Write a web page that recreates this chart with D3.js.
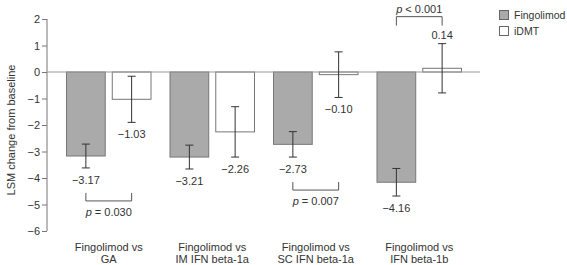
<!DOCTYPE html>
<html><head><meta charset="utf-8">
<script src="https://cdn.jsdelivr.net/npm/d3@7/dist/d3.min.js"></script>
<style>
html,body{margin:0;padding:0;background:#fff;}
svg{display:block;font-family:"Liberation Sans",Arial,sans-serif;}
</style></head>
<body><svg id="c" width="567" height="265"></svg>
<script>
const categories = [["Fingolimod vs","GA"],["Fingolimod vs","IM IFN beta-1a"],["Fingolimod vs","SC IFN beta-1a"],["Fingolimod vs","IFN beta-1b"]];
const seriesNames = ["Fingolimod","iDMT"];
const fingolimod = [-3.17,-3.21,-2.73,-4.16];
const fingolimodErr = [0.45,0.45,0.48,0.52];
const idmt = [-1.03,-2.26,-0.10,0.14];
const idmtErr = [0.87,0.95,0.86,0.93];
const pValues = ["p = 0.030",null,"p = 0.007","p < 0.001"];
const yTicks = [2,1,0,-1,-2,-3,-4,-5,-6];

const svg = d3.select("#c");
const txt = "#333", axisCol = "#777", fs = "11px";
const fmt = v => (v<0?"\u2212":"") + Math.abs(v).toFixed(2);

const y = d3.scaleLinear().domain([-6,2]).range([231,19]);
const keys = categories.map((c,i)=>i);
const x0 = d3.scaleBand().domain(keys).range([57,471]).padding(0);
const x1 = d3.scaleBand().domain(seriesNames).range([9,94.5]).paddingInner(0.132).paddingOuter(0);
const fills = {Fingolimod:"#aaaaaa", iDMT:"#ffffff"};

// y axis
const yAxis = d3.axisLeft(y).tickValues(yTicks).tickSize(5).tickPadding(2)
  .tickFormat(d => d<0 ? "\u2212"+Math.abs(d) : String(d));
const ga = svg.append("g").attr("transform","translate(47,0)").call(yAxis);
ga.selectAll("path,line").attr("stroke",axisCol);
ga.select(".domain").attr("d","M0,"+y(2)+"V"+y(-6));
ga.selectAll("text").attr("fill",txt).style("font-size",fs).style("font-family","Liberation Sans, Arial, sans-serif");

svg.append("text").attr("transform","translate(15,130) rotate(-90)")
  .attr("text-anchor","middle").attr("fill",txt).style("font-size","11px")
  .text("LSM change from baseline");

// data rows
const rows = [];
keys.forEach(i=>{
  rows.push({g:i,s:"Fingolimod",v:fingolimod[i],e:fingolimodErr[i]});
  rows.push({g:i,s:"iDMT",v:idmt[i],e:idmtErr[i]});
});

// bars
svg.append("g").selectAll("rect").data(rows).join("rect")
  .attr("x",d=>x0(d.g)+x1(d.s)+0.5)
  .attr("width",x1.bandwidth()-1)
  .attr("y",d=>Math.min(y(d.v),y(0)))
  .attr("height",d=>Math.abs(y(d.v)-y(0)))
  .attr("fill",d=>fills[d.s]).attr("stroke","#777").attr("stroke-width",1);

// zero line
svg.append("line").attr("x1",47).attr("x2",480).attr("y1",y(0)).attr("y2",y(0))
  .attr("stroke","#999").attr("stroke-width",1.2);

// error bars
const eg = svg.append("g").attr("stroke","#333").attr("stroke-width",1);
rows.forEach(d=>{
  const cx = x0(d.g)+x1(d.s)+x1.bandwidth()/2;
  const t = y(d.v+d.e), b = y(d.v-d.e);
  eg.append("line").attr("x1",cx).attr("x2",cx).attr("y1",t).attr("y2",b);
  eg.append("line").attr("x1",cx-4).attr("x2",cx+4).attr("y1",t).attr("y2",t);
  eg.append("line").attr("x1",cx-4).attr("x2",cx+4).attr("y1",b).attr("y2",b);
  svg.append("text").attr("x",cx).attr("text-anchor","middle").attr("fill",txt)
    .style("font-size",fs)
    .attr("y", d.v<0 ? b+16 : t-5)
    .text(fmt(d.v));
});

// p-value brackets
const bg = svg.append("g").attr("stroke","#555").attr("stroke-width",1).attr("fill","none");
keys.forEach(i=>{
  if(!pValues[i]) return;
  const xa = x0(i)+x1("Fingolimod")+x1.bandwidth()/2;
  const xb = x0(i)+x1("iDMT")+x1.bandwidth()/2;
  const rs = rows.filter(r=>r.g===i);
  const parts = pValues[i].split(/^p/);
  let ty;
  if (idmt[i] > 0) {
    const top = d3.min(rs, r=>y(r.v+r.e));
    bg.append("path").attr("d",`M${xa},${top-18}V${top-27}H${xb}V${top-18}`);
    ty = top-31;
  } else {
    const bot = d3.max(rs, r=>y(r.v-r.e));
    bg.append("path").attr("d",`M${xa},${bot+25}V${bot+33}H${xb}V${bot+25}`);
    ty = bot+48;
  }
  const t = svg.append("text").attr("x",(xa+xb)/2).attr("y",ty).attr("text-anchor","middle")
    .attr("fill",txt).style("font-size",fs);
  t.append("tspan").style("font-style","italic").text("p");
  t.append("tspan").text(parts[1]);
});

// category labels
keys.forEach(i=>{
  const cx = x0(i)+x0.bandwidth()/2;
  const t = svg.append("text").attr("text-anchor","middle").attr("fill",txt).style("font-size",fs);
  t.append("tspan").attr("x",cx).attr("y",251).text(categories[i][0]);
  t.append("tspan").attr("x",cx).attr("y",262.5).text(categories[i][1]);
});

// legend
const lg = svg.append("g");
seriesNames.forEach((s,i)=>{
  lg.append("rect").attr("x",499.5).attr("y",10.5+i*16).attr("width",9).attr("height",9)
    .attr("fill",fills[s]).attr("stroke","#666");
  lg.append("text").attr("x",514).attr("y",19+i*16).attr("fill",txt).style("font-size","10.5px").text(s);
});
</script></body></html>
